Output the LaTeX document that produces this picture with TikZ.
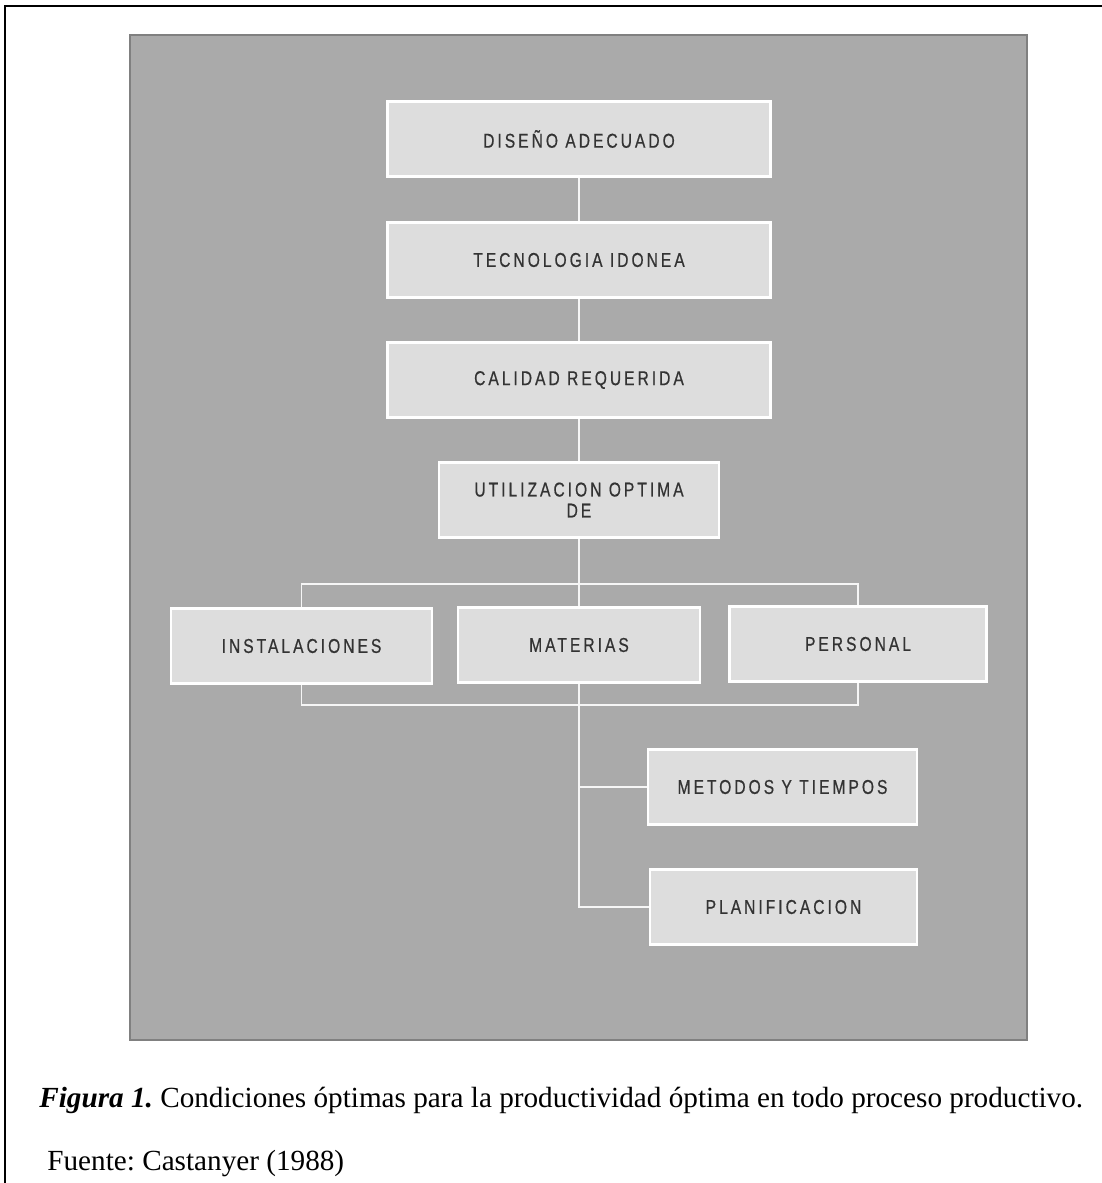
\documentclass[tikz,border=0pt]{standalone}
\usepackage{fontspec}
\setmainfont{Liberation Serif}
\newfontfamily\boxfont[FakeStretch=0.78,LetterSpace=15,FakeBold=0.6]{Liberation Sans}
\usepackage{tikz}
\usetikzlibrary{positioning,backgrounds}
\definecolor{panel}{HTML}{AAAAAA}
\definecolor{boxfill}{HTML}{DDDDDD}
\definecolor{boxtext}{HTML}{333333}

\tikzset{
  stage/.style={draw=white,line width=1.1pt,fill=boxfill,minimum height=37.5pt,
    inner sep=0pt,align=center,text=boxtext,font=\boxfont\fontsize{10}{10.5}\selectfont},
  link/.style={draw=white!90!panel,line width=0.9pt}
}

\begin{document}
\frenchspacing
\begin{tikzpicture}[x=0.5pt,y=-0.5pt]
  \useasboundingbox (0,0) rectangle (1102,1183);
  % outer frame (only top and left edges show)
  \draw[line width=1pt] (1102,6) -- (5,6) -- (5,1183);
  % boxes of the chart
  \node[stage,minimum width=191.5pt] (diseno) at (579,139) {DISEÑO ADECUADO};
  \node[stage,minimum width=191.5pt] (tecno) at (579,260) {TECNOLOGIA IDONEA};
  \node[stage,minimum width=191.5pt] (calidad) at (579,380) {CALIDAD REQUERIDA};
  \node[stage,minimum width=140pt] (utiliz) at (579,500) {UTILIZACION OPTIMA\\DE};
  \node[stage,minimum width=130.5pt] (instal) at (301.5,646) {INSTALACIONES};
  \node[stage,minimum width=121pt] (materias) at (579,645) {MATERIAS};
  \node[stage,minimum width=128.5pt] (personal) at (858,644) {PERSONAL};
  \node[stage,minimum width=134.5pt] (metodos) at (782.5,787) {METODOS Y TIEMPOS};
  \node[stage,minimum width=133.5pt] (planif) at (783.5,907) {PLANIFICACION};
  \coordinate (brtop) at (579,584);
  \coordinate (brbot) at (579,705);
  % panel and connectors behind the boxes
  \begin{scope}[on background layer]
    \filldraw[fill=panel,draw=panel!75!black,line width=0.7pt] (130,35) rectangle (1027,1040);
    \draw[link] (diseno) -- (tecno);
    \draw[link] (tecno) -- (calidad);
    \draw[link] (calidad) -- (utiliz);
    \draw[link] (utiliz.south) -- (utiliz |- planif.west) -- (planif.west);
    \draw[link] (utiliz |- metodos.west) -- (metodos.west);
    \draw[link] (instal |- brtop) -- (personal |- brtop) -- (personal |- brbot)
      -- (instal |- brbot) -- cycle;
  \end{scope}
  % caption
  \node[anchor=base west,inner sep=0pt,font=\fontsize{14.6}{17}\selectfont] (caption) at (39,1107)
    {\textbf{\textit{Figura 1.}} Condiciones óptimas para la productividad óptima en todo proceso productivo.};
  \node[anchor=base west,inner sep=0pt,font=\fontsize{14.6}{17}\selectfont] (fuente) at (47,1170)
    {Fuente: Castanyer (1988)};
\end{tikzpicture}
\end{document}
